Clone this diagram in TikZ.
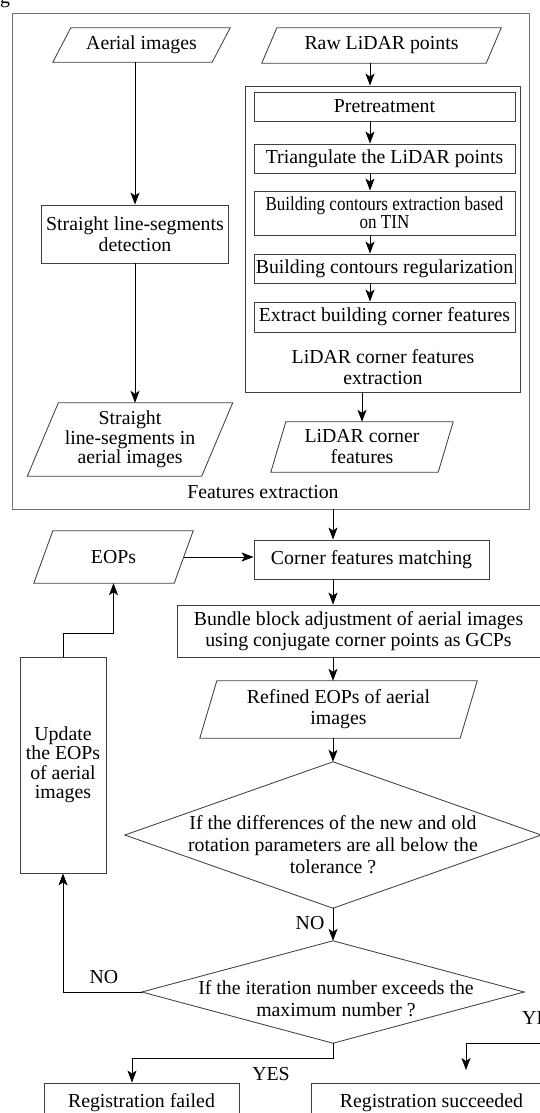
\documentclass[tikz,border=0pt]{standalone}
\usepackage{fontspec}
\setmainfont{Liberation Serif}
\newfontfamily\condfont[FakeStretch=0.86]{Liberation Serif}
\usetikzlibrary{arrows.meta,calc}
\newcommand{\drawpara}[2]{\draw[shapeline] ($(#1.north west)+(#2,0)$) -- ($(#1.north east)+(#2,0)$) -- ($(#1.south east)+(-#2,0)$) -- ($(#1.south west)+(-#2,0)$) -- cycle;}
\begin{document}
\begin{tikzpicture}[x=1pt,y=-1pt,
  every node/.style={font=\fontsize{19.8}{21}\selectfont, inner sep=0pt, align=center},
  shapeline/.style={draw=black!75, line width=0.85pt},
  box/.style={shapeline, rectangle},
  outerbox/.style={draw=black!55, line width=0.9pt, rectangle},
  pnode/.style={rectangle},
  arr/.style={draw=black, line width=0.9pt, -{Stealth[length=12pt,width=9pt,inset=3pt]}},
  condn/.style={font=\condfont\fontsize{19.8}{18}\selectfont},
  tight/.style={font=\fontsize{19.8}{19.5}\selectfont},
  wide/.style={font=\fontsize{19.8}{22}\selectfont}]
\useasboundingbox (0,0) rectangle (540,1113);
\node[anchor=base west] (gfrag) at (0,4) {g};
% features extraction frame
\node[outerbox, minimum width=517pt, minimum height=496pt] (feat) at (270.5,261) {};
\node (featl) at (263,492) {Features extraction};
% left column
\node[pnode, minimum width=159pt, minimum height=34pt] (aer) at (141.5,45) {Aerial images};
\drawpara{aer}{9}
\node[box, minimum width=187pt, minimum height=58pt] (sld) at (135,234) {Straight line-segments\\detection};
\node[pnode, tight, minimum width=174pt, minimum height=73pt] (sls) at (130,439.5) {Straight\\line-segments in\\aerial images};
\drawpara{sls}{15.5}
% right column
\node[pnode, minimum width=224pt, minimum height=35pt] (raw) at (381.5,45.5) {Raw LiDAR points};
\drawpara{raw}{7.5}
\node[box, minimum width=275pt, minimum height=306pt] (lgrp) at (382.5,239) {};
\node (lgrpl) at (383,367) {LiDAR corner features\\extraction};
\node[box, minimum width=261pt, minimum height=29pt] (pre) at (384.5,106.5) {Pretreatment};
\node[box, minimum width=261pt, minimum height=29pt] (tri) at (384.5,158.5) {Triangulate the LiDAR points};
\node[box, condn, minimum width=261pt, minimum height=44pt] (bce) at (384.5,213) {Building contours extraction based\\on TIN};
\node[box, minimum width=261pt, minimum height=29pt] (reg) at (384.5,268.5) {Building contours regularization};
\node[box, minimum width=261pt, minimum height=30pt] (ext) at (384.5,317) {Extract building corner features};
\node[pnode, minimum width=167pt, minimum height=50pt] (lcf) at (362,447) {LiDAR corner\\features};
\drawpara{lcf}{7.5}
% lower part
\node[box, minimum width=235pt, minimum height=39pt] (cfm) at (371.5,559.5) {Corner features matching};
\node[pnode, minimum width=140pt, minimum height=52pt] (eops) at (113.5,557) {EOPs};
\drawpara{eops}{9.5}
\node[box, minimum width=363pt, minimum height=52pt] (bba) at (358.5,631) {Bundle block adjustment of aerial images\\using conjugate corner points as GCPs};
\node[pnode, minimum width=260pt, minimum height=57pt] (ref) at (338.5,709.5) {Refined EOPs of aerial\\images};
\drawpara{ref}{8.5}
\node[pnode, minimum width=416pt, minimum height=146pt] (d1) at (333,835) {};
\draw[shapeline] (d1.north) -- (d1.east) -- (d1.south) -- (d1.west) -- cycle;
\node[wide] (d1t) at (333,845) {If the differences of the new and old\\rotation parameters are all below the\\tolerance ?};
\node[pnode, minimum width=382pt, minimum height=102pt] (d2) at (333,992) {};
\draw[shapeline] (d2.north) -- (d2.east) -- (d2.south) -- (d2.west) -- cycle;
\node[wide] (d2t) at (336,999) {If the iteration number exceeds the\\maximum number ?};
\node[box, tight, minimum width=86pt, minimum height=216pt] (upd) at (63,765) {Update\\the EOPs\\of aerial\\images};
\node[box, minimum width=195pt, minimum height=40pt] (fail) at (141.5,1103) {Registration failed};
\node[box, minimum width=241pt, minimum height=40pt] (succ) at (431.5,1103) {Registration succeeded};
\node (no1) at (310,923) {NO};
\node (no2) at (104,977) {NO};
\node (yes1) at (271,1074) {YES};
\node[anchor=west] (yes2) at (522,1018) {YES};
% connectors
\coordinate (lc) at (370,0);
\coordinate (mc) at (333,0);
\draw[arr] (sld.north |- aer.south) -- (sld.north);
\draw[arr] (sld.south) -- (sld.south |- sls.north);
\draw[arr] (raw.south -| lc) -- (lgrp.north -| lc);
\draw[arr] (pre.south -| lc) -- (tri.north -| lc);
\draw[arr] (tri.south -| lc) -- (bce.north -| lc);
\draw[arr] (bce.south -| lc) -- (reg.north -| lc);
\draw[arr] (reg.south -| lc) -- (ext.north -| lc);
\draw[arr] (lcf.north |- lgrp.south) -- (lcf.north);
\draw[arr] (feat.south -| mc) -- (cfm.north -| mc);
\draw[arr] (eops.east) -- (eops.east -| cfm.west);
\draw[arr] (cfm.south -| mc) -- (bba.north -| mc);
\draw[arr] (bba.south -| mc) -- (ref.north -| mc);
\draw[arr] (ref.south -| mc) -- (d1.north);
\draw[arr] (d1.south) -- (d2.north);
\draw[arr] (d2.west) -| (upd.south);
\coordinate (bend) at (0,633);
\draw[arr] (upd.north) -- (upd.north |- bend) -- (eops.south |- bend) -- (eops.south);
\coordinate (yb) at (132,1058);
\draw[arr] (d2.south) |- (yb) -- (yb |- fail.north);
\coordinate (rs) at (545,1043);
\coordinate (rt) at (466,1070);
\draw[arr] (rs) -| (rt);
\end{tikzpicture}
\end{document}
